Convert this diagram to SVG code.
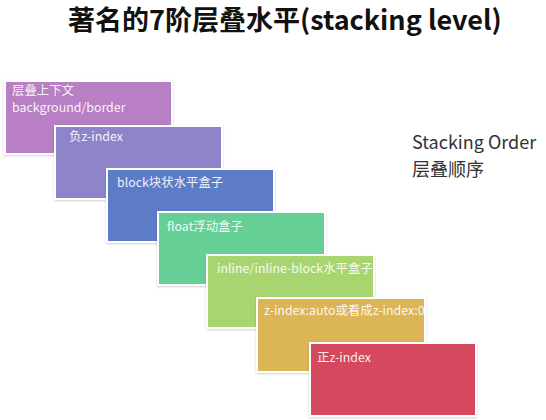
<svg xmlns="http://www.w3.org/2000/svg" width="546" height="420" viewBox="0 0 546 420">
<defs>
<filter id="sh" x="-10%" y="-10%" width="120%" height="125%">
<feDropShadow dx="0" dy="1" stdDeviation="1.2" flood-color="#000" flood-opacity="0.18"/>
</filter>
<style>
.box{stroke:#fff;stroke-width:2;filter:url(#sh)}
.lbl{font-family:"Noto Sans CJK SC","Noto Sans",sans-serif;font-size:12.4px;fill:#fff;fill-opacity:0.92}
.title{font-family:"Noto Sans CJK SC","Noto Sans",sans-serif;font-size:27px;font-weight:bold;fill:#111}
.side{font-family:"Noto Sans CJK SC","Noto Sans",sans-serif;font-size:18px;fill:#333}
</style>
</defs>
<rect width="546" height="420" fill="#fff"/>
<text class="title" x="68" y="30">著名的7阶层叠水平(stacking level)</text>
<g id="n1"><rect class="box" x="5" y="81" width="167" height="73" fill="#b87fc4"/><text class="lbl" x="12" y="95">层叠上下文</text><text class="lbl" x="12" y="112">background/border</text></g>
<g id="n2"><rect class="box" x="55" y="126" width="167" height="73" fill="#8e84c9"/><text class="lbl" x="69" y="141">负z-index</text></g>
<g id="n3"><rect class="box" x="107" y="169" width="167" height="73" fill="#5b7cc7"/><text class="lbl" x="117" y="187">block块状水平盒子</text></g>
<g id="n4"><rect class="box" x="158" y="212" width="167" height="73" fill="#66cf96"/><text class="lbl" x="167" y="231">float浮动盒子</text></g>
<g id="n5"><rect class="box" x="207" y="255" width="167" height="73" fill="#a9d56f"/><text class="lbl" x="217" y="273">inline/inline-block水平盒子</text></g>
<g id="n6"><rect class="box" x="257" y="298" width="168" height="74" fill="#dbb556"/><text class="lbl" x="264" y="315">z-index:auto或看成z-index:0</text></g>
<g id="n7"><rect class="box" x="310" y="343" width="166" height="73" fill="#d4495d"/><text class="lbl" x="317" y="362">正z-index</text></g>
<g id="side"><text class="side" x="412" y="149">Stacking Order</text><text class="side" x="412" y="176">层叠顺序</text></g>
<g id="connectors"></g>
</svg>
